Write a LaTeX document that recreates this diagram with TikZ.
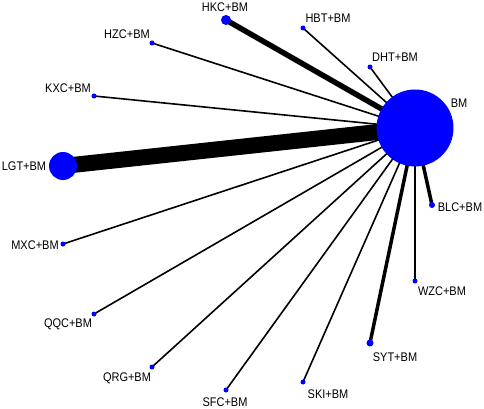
\documentclass[tikz,border=0pt]{standalone}
\usepackage{fontspec}
\setmainfont{Liberation Sans}[FakeStretch=0.88]
\usetikzlibrary{positioning,backgrounds}

\begin{document}
\begin{tikzpicture}[
    x=1pt, y=-1pt,
    dot/.style={circle, fill=blue, inner sep=0pt, minimum size=5pt},
    lbl/.style={inner sep=0pt, font=\fontsize{12.5}{14}\selectfont},
    link/.style={line width=1.6pt, black}
]
\useasboundingbox (0,0) rectangle (484,409);

% treatments
\node[circle, fill=blue, inner sep=0pt, minimum size=77pt] (bm) at (415,128) {};
\node[dot, minimum size=10pt] (hkc) at (226,20) {};
\node[dot] (hzc) at (152,43) {};
\node[dot] (kxc) at (94,96) {};
\node[dot, minimum size=28pt] (lgt) at (63,166) {};
\node[dot] (hbt) at (303,28) {};
\node[dot] (dht) at (370,67) {};
\node[dot] (mxc) at (63,244) {};
\node[dot] (qqc) at (94,314) {};
\node[dot] (qrg) at (152,367) {};
\node[dot] (sfc) at (226,390) {};
\node[dot] (ski) at (303,382) {};
\node[dot, minimum size=7pt] (syt) at (370,343) {};
\node[dot] (wzc) at (415,281) {};
\node[dot, minimum size=6pt] (blc) at (432,205) {};

% labels
\node[lbl] (lbm) at (459,103) {BM};
\node[lbl] (lhkc) at (225,7) {HKC+BM};
\node[lbl] (lhzc) at (127,34) {HZC+BM};
\node[lbl] (lkxc) at (68,88) {KXC+BM};
\node[lbl] (llgt) at (24,166.5) {LGT+BM};
\node[lbl] (lhbt) at (328,18) {HBT+BM};
\node[lbl] (ldht) at (395,57) {DHT+BM};
\node[lbl] (lmxc) at (35,245) {MXC+BM};
\node[lbl] (lqqc) at (68,324) {QQC+BM};
\node[lbl] (lqrg) at (127,378) {QRG+BM};
\node[lbl] (lsfc) at (225,402) {SFC+BM};
\node[lbl] (lski) at (328,394) {SKI+BM};
\node[lbl] (lsyt) at (395,357) {SYT+BM};
\node[lbl] (lwzc) at (442,291) {WZC+BM};
\node[lbl] (lblc) at (460,207) {BLC+BM};

% comparisons
\begin{scope}[on background layer]
\draw[link, line width=16pt] (bm.center) -- (lgt.center);
\draw[link, line width=5.5pt] (bm.center) -- (hkc.center);
\draw[link] (bm.center) -- (hzc.center);
\draw[link] (bm.center) -- (kxc.center);
\draw[link] (bm.center) -- (hbt.center);
\draw[link] (bm.center) -- (dht.center);
\draw[link] (bm.center) -- (mxc.center);
\draw[link] (bm.center) -- (qqc.center);
\draw[link] (bm.center) -- (qrg.center);
\draw[link] (bm.center) -- (sfc.center);
\draw[link] (bm.center) -- (ski.center);
\draw[link, line width=3.5pt] (bm.center) -- (syt.center);
\draw[link] (bm.center) -- (wzc.center);
\draw[link, line width=3.5pt] (bm.center) -- (blc.center);
\end{scope}
\end{tikzpicture}
\end{document}
